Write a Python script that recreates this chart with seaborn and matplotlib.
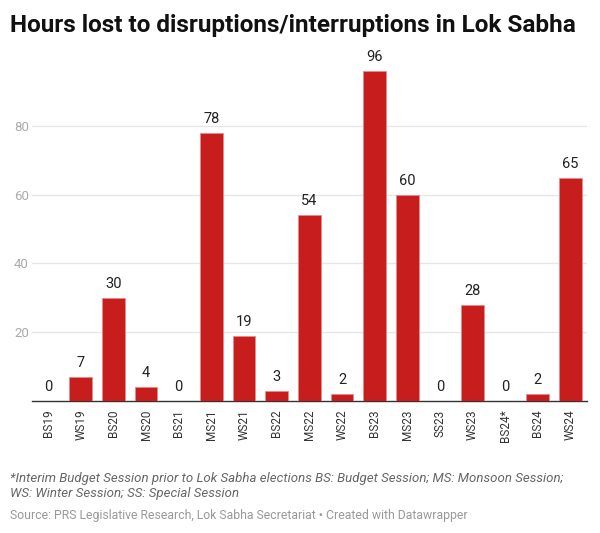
import pandas as pd
import matplotlib.pyplot as plt
import seaborn as sns

sessions = ["BS19", "WS19", "BS20", "MS20", "BS21", "MS21", "WS21", "BS22", "MS22",
            "WS22", "BS23", "MS23", "SS23", "WS23", "BS24*", "BS24", "WS24"]
hours = [0, 7, 30, 4, 0, 78, 19, 3, 54, 2, 96, 60, 0, 28, 0, 2, 65]
yticks = [20, 40, 60, 80]

df = pd.DataFrame({"session": sessions, "hours": hours})

sns.set_style("white")
plt.rcParams["font.family"] = ["Roboto", "DejaVu Sans"]

fig = plt.figure(figsize=(6, 5.33), dpi=100)
ax = fig.add_axes([0.053, 0.2477, 0.925, 0.645])

sns.barplot(data=df, x="session", y="hours", color="#c71e1d", width=0.7,
            saturation=1, edgecolor="#e88a8a", linewidth=0.6, ax=ax, zorder=3)

for i, v in enumerate(hours):
    ax.text(i, v + 2.0, str(v), ha="center", va="bottom", fontsize=10.5, color="#222222")

ax.set_ylim(0, 100)
ax.set_xlim(-0.5, len(sessions) - 0.5)
ax.set_yticks(yticks)
ax.yaxis.grid(True, color="#e6e6e6", linewidth=1, zorder=0)
ax.tick_params(axis="y", length=0, labelsize=9.5, labelcolor="#aaaaaa", pad=2)
ax.tick_params(axis="x", length=0, labelsize=8.5, labelcolor="#333333", pad=6)
plt.setp(ax.get_xticklabels(), rotation=90)
ax.set_xlabel("")
ax.set_ylabel("")
for s in ["top", "right", "left"]:
    ax.spines[s].set_visible(False)
ax.spines["bottom"].set_color("#333333")
ax.spines["bottom"].set_linewidth(1)

fig.text(0.017, 0.952, "Hours lost to disruptions/interruptions in Lok Sabha",
         fontsize=17.5, fontweight="bold", color="#111111", va="center")
fig.text(0.017, 0.088,
         "*Interim Budget Session prior to Lok Sabha elections BS: Budget Session; MS: Monsoon Session;\nWS: Winter Session; SS: Special Session",
         fontsize=9.5, style="italic", color="#666666", va="center", linespacing=1.25)
fig.text(0.017, 0.033, "Source: PRS Legislative Research, Lok Sabha Secretariat \u2022 Created with Datawrapper",
         fontsize=8.8, color="#999999", va="center")

fig.savefig("out.png", dpi=100, facecolor="white")
